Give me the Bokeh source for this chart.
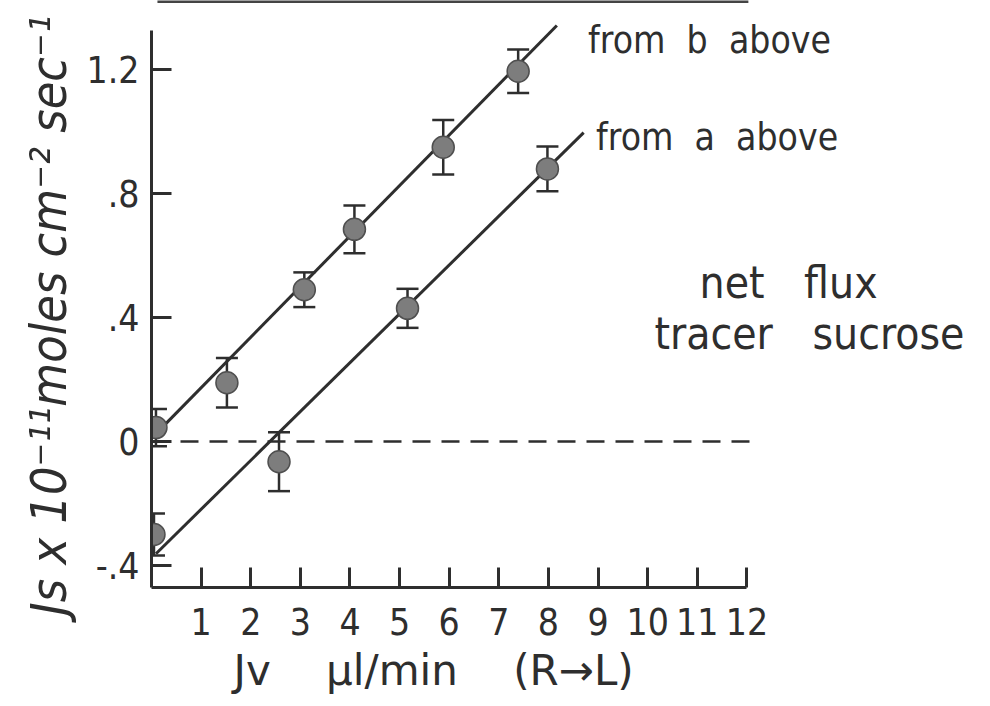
from bokeh.plotting import figure
from bokeh.models import Range1d, FixedTicker, ColumnDataSource, Title
from bokeh.core.properties import value
from bokeh.embed import file_html
from bokeh.resources import INLINE

# ---- data ----
jv_b = [0.09, 1.52, 3.08, 4.09, 5.88, 7.39]
js_b = [0.045, 0.19, 0.49, 0.685, 0.95, 1.195]
err_b = [0.06, 0.08, 0.056, 0.077, 0.088, 0.07]

jv_a = [0.05, 2.57, 5.16, 7.98]
js_a = [-0.30, -0.065, 0.43, 0.88]
err_a = [0.068, 0.095, 0.063, 0.072]

fit_b_x = [0.29, 8.17]
fit_b_y = [0.058, 1.343]
fit_a_x = [0.09, 8.71]
fit_a_y = [-0.362, 0.997]

x_ticks = [1, 2, 3, 4, 5, 6, 7, 8, 9, 10, 11, 12]
x_tick_labels = ["1", "2", "3", "4", "5", "6", "7", "8", "9", "10", "11", "12"]
y_ticks = [-0.4, 0.0, 0.4, 0.8, 1.2]
y_tick_labels = ["-.4", "0", ".4", ".8", "1.2"]

SP = "\u00a0"
EM = "\u2003"
notes_line = ["from" + SP + " b" + SP + " above", "from" + SP + " a" + SP + " above"]
notes_box = ["net" + EM + "flux", "tracer" + EM + "sucrose"]
x_title = "Jv" + EM + SP + "µl/min" + EM + SP + "(R→L)"
y_title = "Js x 10⁻¹¹moles cm⁻² sec⁻¹"

FONT = "DejaVu Sans Condensed"
INK = "#2e2e2e"

p = figure(width=990, height=706, output_backend="svg", toolbar_location=None,
           x_range=Range1d(0, 16.91), y_range=Range1d(-0.471, 1.4235),
           min_border_left=151, min_border_right=0, min_border_top=0,
           min_border_bottom=119)
p.outline_line_color = None
p.grid.visible = False
p.background_fill_color = "white"
p.border_fill_color = "white"

for ax in (p.xaxis, p.yaxis):
    ax.axis_line_width = 3
    ax.axis_line_color = INK
    ax.major_tick_line_width = 3
    ax.major_tick_line_color = INK
    ax.major_tick_in = 20
    ax.major_tick_out = 0
    ax.minor_tick_line_color = None
    ax.major_label_text_font = FONT
    ax.major_label_text_font_size = "37px"
    ax.major_label_text_color = INK

p.xaxis.bounds = (0, 12)
p.yaxis.bounds = (-0.471, 1.326)
p.xaxis.ticker = FixedTicker(ticks=x_ticks)
p.yaxis.ticker = FixedTicker(ticks=y_ticks)
p.xaxis.major_label_overrides = dict(zip(x_ticks, x_tick_labels))
p.yaxis.major_label_overrides = dict(zip(y_ticks, y_tick_labels))
p.xaxis.major_label_standoff = 20
p.yaxis.major_label_standoff = 12

p.add_layout(Title(text=x_title, align="left", offset=82, text_font="DejaVu Sans",
                   text_font_size="42px", text_font_style="normal", text_color=INK,
                   standoff=13), "below")
p.add_layout(Title(text=y_title, align="left", offset=-28, text_font=FONT,
                   text_font_size="50px", text_font_style="italic", text_color=INK,
                   standoff=12), "left")

# top border line remnant
p.segment(x0=[0.12], y0=[1.42], x1=[12.03], y1=[1.42], line_width=3, line_color="#444444")

# zero reference line
p.segment(x0=[0], y0=[0], x1=[12.2], y1=[0], line_width=2.5, line_color=INK, line_dash="18 11")

def series(jv, js, err):
    up = [v + e for v, e in zip(js, err)]
    lo = [v - e for v, e in zip(js, err)]
    src = ColumnDataSource(dict(x=jv, y=js, up=up, lo=lo))
    p.segment(x0="x", y0="lo", x1="x", y1="up", source=src, line_width=2.5, line_color=INK)
    p.scatter(x="x", y="up", source=src, marker="dash", size=22, line_width=2.5, line_color=INK)
    p.scatter(x="x", y="lo", source=src, marker="dash", size=22, line_width=2.5, line_color=INK)
    return src

src_b = series(jv_b, js_b, err_b)
src_a = series(jv_a, js_a, err_a)

p.line(fit_b_x, fit_b_y, line_width=3, line_color=INK)
p.line(fit_a_x, fit_a_y, line_width=3, line_color=INK)

for src in (src_b, src_a):
    p.scatter(x="x", y="y", source=src, marker="circle", size=22,
              fill_color="#7d7d7d", line_color="#4f4f4f", line_width=1.5)

# annotations
p.text(x=[8.8, 8.96], y=[1.294, 0.981], text=notes_line, text_font=value(FONT),
       text_font_size="37px", text_color=INK, text_align="left", text_baseline="middle")
p.text(x=[12.84, 13.26], y=[0.513, 0.349], text=notes_box, text_font=value(FONT),
       text_font_size="44px", text_color=INK, text_align="center", text_baseline="middle")

open("out.html", "w").write(file_html(p, INLINE))
